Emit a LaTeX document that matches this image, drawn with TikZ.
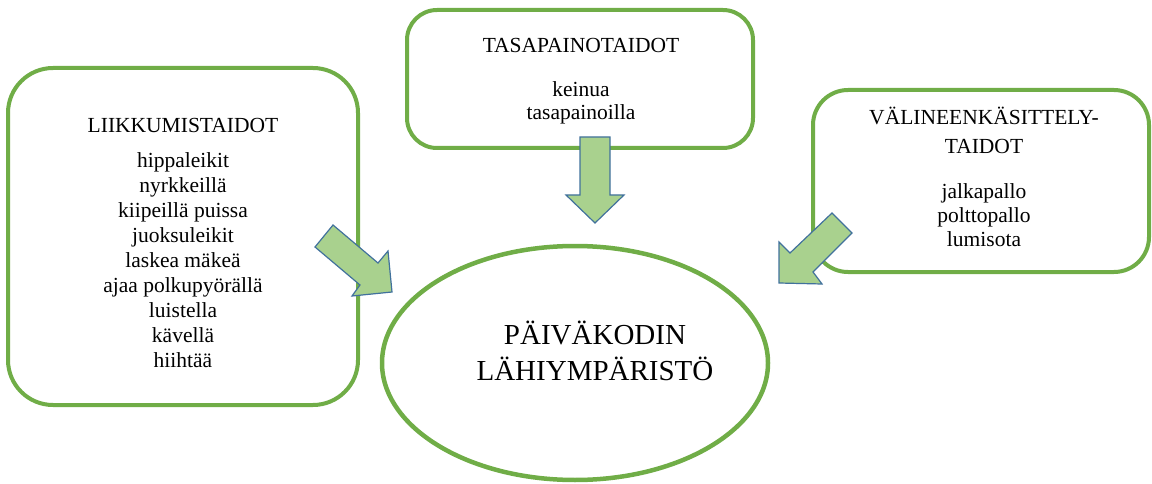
\documentclass[tikz,border=0pt]{standalone}
\usepackage{fontspec}
\setmainfont{Liberation Serif}
\usetikzlibrary{shapes.geometric}
\definecolor{boxgreen}{HTML}{70AD47}
\definecolor{arrowfill}{HTML}{A9D18E}
\definecolor{arrowline}{HTML}{41719C}
\tikzset{
  skillbox/.style={draw=boxgreen, line width=4pt, fill=white, inner sep=0pt},
  envellipse/.style={ellipse, draw=boxgreen, line width=4.5pt, inner sep=0pt},
  blockarrow/.style={fill=arrowfill, draw=arrowline, line width=1.2pt, line join=miter},
  boxtext/.style={align=center, inner sep=0pt, anchor=base, font=\fontsize{21.5pt}{25pt}\selectfont},
  bigtext/.style={align=center, inner sep=0pt, anchor=base, font=\fontsize{29pt}{36pt}\selectfont}
}
\begin{document}
\begin{tikzpicture}[x=1pt,y=-1pt]
\useasboundingbox (0,0) rectangle (1152,484);
% boxes
\node[skillbox, rounded corners=45pt, minimum width=350pt, minimum height=337pt] (liike) at (183,236.5) {};
\node[skillbox, rounded corners=30pt, minimum width=346pt, minimum height=138pt] (tasa) at (580,79) {};
\node[skillbox, rounded corners=35pt, minimum width=336pt, minimum height=182pt] (vali) at (981,181) {};
\node[envellipse, minimum width=386pt, minimum height=234pt] (env) at (575,363) {};
% texts (anchor=base is the baseline of the last line)
\node[boxtext] (liiketext) at (183,367) {LIIKKUMISTAIDOT\\[10pt]hippaleikit\\nyrkkeillä\\kiipeillä puissa\\juoksuleikit\\laskea mäkeä\\ajaa polkupyörällä\\luistella\\kävellä\\hiihtää};
\node[boxtext, font=\fontsize{21.5pt}{23pt}\selectfont] (tasatext) at (581,120) {TASAPAINOTAIDOT\\[21pt]keinua\\tasapainoilla};
\node[boxtext, font=\fontsize{21.5pt}{24pt}\selectfont] (valitext) at (984,246) {VÄLINEENKÄSITTELY-\\[5pt]TAIDOT\\[21pt]jalkapallo\\polttopallo\\lumisota};
\node[bigtext] (envtext) at (595,380) {PÄIVÄKODIN\\LÄHIYMPÄRISTÖ};
% block arrows
\draw[blockarrow] (333,225) -- (378,263) -- (388,251) -- (392,292) -- (352,296) -- (360,285) -- (315,247) -- cycle;
\draw[blockarrow] (580,137) -- (610,137) -- (610,195) -- (624,195) -- (595,223) -- (566,195) -- (580,195) -- cycle;
\draw[blockarrow] (832,213) -- (852,233) -- (813,272) -- (822,284) -- (779,283) -- (779,242) -- (790,253) -- cycle;
\end{tikzpicture}
\end{document}
